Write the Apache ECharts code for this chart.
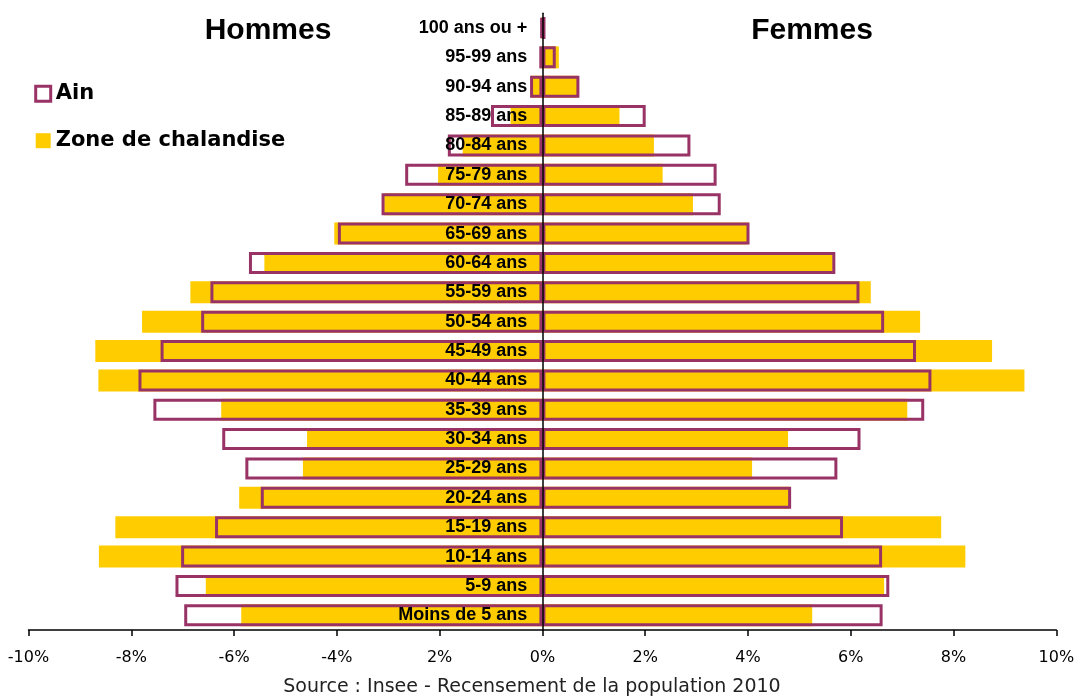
<!DOCTYPE html>
<html>
<head>
<meta charset="utf-8">
<title>Pyramide des âges - Ain / Zone de chalandise</title>
<script src="https://cdn.jsdelivr.net/npm/echarts@6.0.0/dist/echarts.min.js"></script>
<style>
  html, body { margin: 0; padding: 0; background: #fff; }
  #chart { width: 1077px; height: 697px; }
</style>
</head>
<body>
<div id="chart"></div>
<script>
// tranches d'âge, du bas vers le haut
const ages = ['Moins de 5 ans', '5-9 ans', '10-14 ans', '15-19 ans', '20-24 ans', '25-29 ans',
  '30-34 ans', '35-39 ans', '40-44 ans', '45-49 ans', '50-54 ans', '55-59 ans', '60-64 ans',
  '65-69 ans', '70-74 ans', '75-79 ans', '80-84 ans', '85-89 ans', '90-94 ans', '95-99 ans',
  '100 ans ou +']

// part de la population (%), hommes en négatif
const ainHommes = [-6.97, -7.14, -7.03, -6.37, -5.48, -5.78, -6.23, -7.57, -7.86, -7.43, -6.64,
  -6.46, -5.71, -3.98, -3.13, -2.67, -1.84, -1.00, -0.24, -0.06, -0.03]
const ainFemmes = [6.62, 6.75, 6.61, 5.85, 4.84, 5.74, 6.19, 7.43, 7.57, 7.27, 6.65,
  6.17, 5.70, 4.03, 3.47, 3.39, 2.88, 2.01, 0.72, 0.26, 0.06]
const zoneHommes = [-5.86, -6.55, -8.63, -8.31, -5.90, -4.66, -4.58, -6.25, -8.64, -8.70, -7.79,
  -6.85, -5.41, -4.05, -3.08, -2.03, -1.55, -0.62, -0.22, -0.04, -0.02]
const zoneFemmes = [5.25, 6.65, 8.23, 7.76, 4.80, 4.08, 4.78, 7.10, 9.38, 8.75, 7.35,
  6.39, 5.65, 4.00, 2.93, 2.34, 2.17, 1.50, 0.68, 0.32, 0.05]

// libellés de l'axe horizontal, tels qu'affichés
const xTickLabels = ['-10%', '-8%', '-6%', '-4%', '2%', '0%', '2%', '4%', '6%', '8%', '10%']

const PURPLE = '#993366'
const YELLOW = '#FFCC00'

const GRID_LEFT = 28.5
const GRID_RIGHT = 20.7
const ZERO_X = 542.3 // axe vertical posé sur 0 %

const chart = echarts.init(document.getElementById('chart'))

const ainStyle = { color: 'rgba(0,0,0,0)', borderColor: PURPLE, borderWidth: 3 }
const zoneStyle = { color: YELLOW }

chart.setOption({
  animation: false,
  grid: {
    left: GRID_LEFT, right: GRID_RIGHT, top: 13.3, bottom: 67,
    containLabel: false, outerBoundsMode: 'none'
  },
  legend: {
    orient: 'vertical',
    left: 29.2,
    top: 78.2,
    itemWidth: 15,
    itemHeight: 15,
    itemGap: 26,
    selectedMode: false,
    textStyle: { fontFamily: 'DejaVu Sans', fontWeight: 'bold', fontSize: 21, color: '#000' },
    data: [
      { name: 'Ain', icon: 'rect', itemStyle: { color: '#fff', borderColor: PURPLE, borderWidth: 3 } },
      { name: 'Zone de chalandise', icon: 'rect', itemStyle: { color: YELLOW, borderWidth: 0 } }
    ]
  },
  xAxis: {
    type: 'value',
    min: -10,
    max: 10,
    interval: 2,
    splitLine: { show: false },
    axisLine: { show: true, onZero: false, lineStyle: { color: '#000', width: 1.5 } },
    axisTick: { show: true, length: 6, lineStyle: { color: '#000', width: 1.5 } },
    axisLabel: {
      margin: 20,
      fontFamily: 'DejaVu Sans',
      fontSize: 16,
      color: '#000',
      formatter: v => xTickLabels[Math.round((v + 10) / 2)]
    }
  },
  yAxis: [
    {
      type: 'category',
      data: ages,
      z: 10,
      offset: -(ZERO_X - GRID_LEFT),
      axisLine: { onZero: false, lineStyle: { color: '#000', width: 1.5 } },
      axisTick: { show: false },
      axisLabel: {
        margin: 15,
        fontFamily: 'Liberation Sans',
        fontWeight: 'bold',
        fontSize: 18,
        color: '#000'
      }
    },
    { type: 'category', data: ages, show: false }
  ],
  series: [
    { name: 'Zone de chalandise', type: 'bar', yAxisIndex: 0, stack: 'zone', barWidth: 22, z: 2, itemStyle: zoneStyle, data: zoneHommes },
    { name: 'Zone de chalandise', type: 'bar', yAxisIndex: 0, stack: 'zone', barWidth: 22, z: 2, itemStyle: zoneStyle, data: zoneFemmes },
    { name: 'Ain', type: 'bar', yAxisIndex: 1, stack: 'ain', barWidth: 22, z: 3, itemStyle: ainStyle, data: ainHommes },
    { name: 'Ain', type: 'bar', yAxisIndex: 1, stack: 'ain', barWidth: 22, z: 3, itemStyle: ainStyle, data: ainFemmes }
  ],
  graphic: [
    {
      type: 'text', x: 268, y: 31,
      style: { text: 'Hommes', font: 'bold 30px "Liberation Sans"', fill: '#000', align: 'center', verticalAlign: 'middle', textAlign: 'center', textVerticalAlign: 'middle' }
    },
    {
      type: 'text', x: 812, y: 31,
      style: { text: 'Femmes', font: 'bold 30px "Liberation Sans"', fill: '#000', align: 'center', verticalAlign: 'middle', textAlign: 'center', textVerticalAlign: 'middle' }
    },
    {
      type: 'text', x: 532, y: 687,
      style: { text: 'Source : Insee - Recensement de la population 2010', font: '19px "DejaVu Sans"', fill: '#222', align: 'center', verticalAlign: 'middle', textAlign: 'center', textVerticalAlign: 'middle' }
    }
  ]
})
</script>
</body>
</html>
